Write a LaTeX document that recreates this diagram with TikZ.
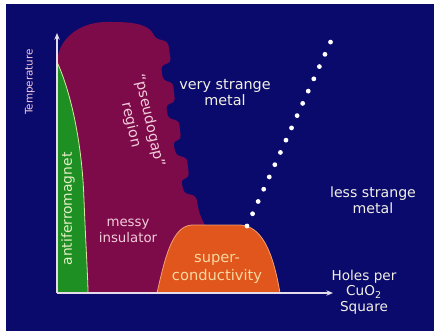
\documentclass[tikz,border=0pt]{standalone}
\usepackage{fontspec}
\setmainfont{DejaVu Sans}
\usetikzlibrary{arrows.meta}
\definecolor{navy}{HTML}{0A0A6C}
\definecolor{maroonfill}{HTML}{7D0B4A}
\definecolor{afgreen}{HTML}{1E8F23}
\definecolor{afedge}{HTML}{D8E8A0}
\definecolor{scorange}{HTML}{E0561C}
\definecolor{scedge}{HTML}{F2A070}
\definecolor{axiscol}{HTML}{E4DCEA}
\definecolor{pinktext}{HTML}{F2CCDA}
\definecolor{whitetext}{HTML}{F2F0E4}
\definecolor{greentext}{HTML}{E4F0C8}
\definecolor{peachtext}{HTML}{F8D8A0}
\tikzset{
  lbl/.style={font=\fontsize{10.8}{12}\selectfont, align=center, inner sep=0pt},
  axisline/.style={draw=axiscol, line width=1.6pt, -{Stealth[length=5pt,width=4pt]}},
}
\begin{document}
\begin{tikzpicture}[x=0.75pt,y=-0.75pt]
\useasboundingbox (0,0) rectangle (434,331);
\fill[white] (0,0) rectangle (434,331);
\fill[navy] (6,4) rectangle (434,331);
% maroon pseudogap / insulator region
\fill[maroonfill, rounded corners=2.5pt]
  (57,293) -- (57,62) .. controls (60,38) and (80,22) .. (110,22)
  .. controls (138,22) and (150,26) .. (155,38)
  -- (168,42) -- (171,62) -- (161,66) -- (163,80) -- (173,83) -- (175,102)
  -- (166,105) -- (168,118) -- (179,121) -- (181,139) -- (173,142)
  -- (176,155) -- (187,158) -- (189,177) -- (181,180) -- (184,193)
  -- (196,196) -- (199,212) -- (204,224) -- (210,232) -- (210,293) -- cycle;
% antiferromagnet region
\fill[afgreen] (57,293) -- (57,62) .. controls (70,90) and (82,140) .. (84,200)
  .. controls (86,250) and (88,280) .. (88,293) -- cycle;
\draw[afedge, line width=0.6pt] (57,62) .. controls (70,90) and (82,140) .. (84,200)
  .. controls (86,250) and (88,280) .. (88,293);
% superconducting dome
\fill[scorange, draw=scedge, line width=0.6pt] (157,293) .. controls (165,258) and (172,226) .. (192,225)
  -- (240,225) .. controls (262,226) and (273,252) .. (280,293) -- cycle;
% dotted crossover line
\coordinate (d1) at (247,226);
\coordinate (d2) at (331,41);
\draw[white, line width=3.6pt, line cap=round, dash pattern=on 0pt off 10.1pt] (d1) -- (d2);
% axes
\coordinate (O) at (57,293);
\coordinate (ytop) at (57,33);
\coordinate (xend) at (333,293);
\draw[axisline] (O) -- (ytop);
\draw[axisline] (O) -- (xend);
% labels
\node[lbl, text=pinktext, rotate=90, font=\fontsize{7.8}{9}\selectfont] (temp) at (30,82) {Temperature};
\node[lbl, text=greentext, rotate=90, font=\fontsize{10.4}{11}\selectfont] (af) at (68,209) {antiferromagnet};
\node[lbl, text=pinktext, rotate=-77, font=\fontsize{10.8}{14}\selectfont] (pg) at (140,123) {“pseudogap”\\region};
\node[lbl, text=whitetext] (vsm) at (225,93) {very strange\\metal};
\node[lbl, text=whitetext, font=\fontsize{10.6}{12}\selectfont] (lsm) at (373,200) {less strange\\metal};
\node[lbl, text=pinktext, font=\fontsize{10}{12.5}\selectfont] (mi) at (128,231) {messy\\insulator};
\node[lbl, text=peachtext, font=\fontsize{11}{13}\selectfont] (sc) at (217,269) {super-\\conductivity};
\node[lbl, text=whitetext, font=\fontsize{10.2}{11.8}\selectfont] (holes) at (364,292) {Holes per\\CuO\textsubscript{2}\\Square};
\end{tikzpicture}
\end{document}
